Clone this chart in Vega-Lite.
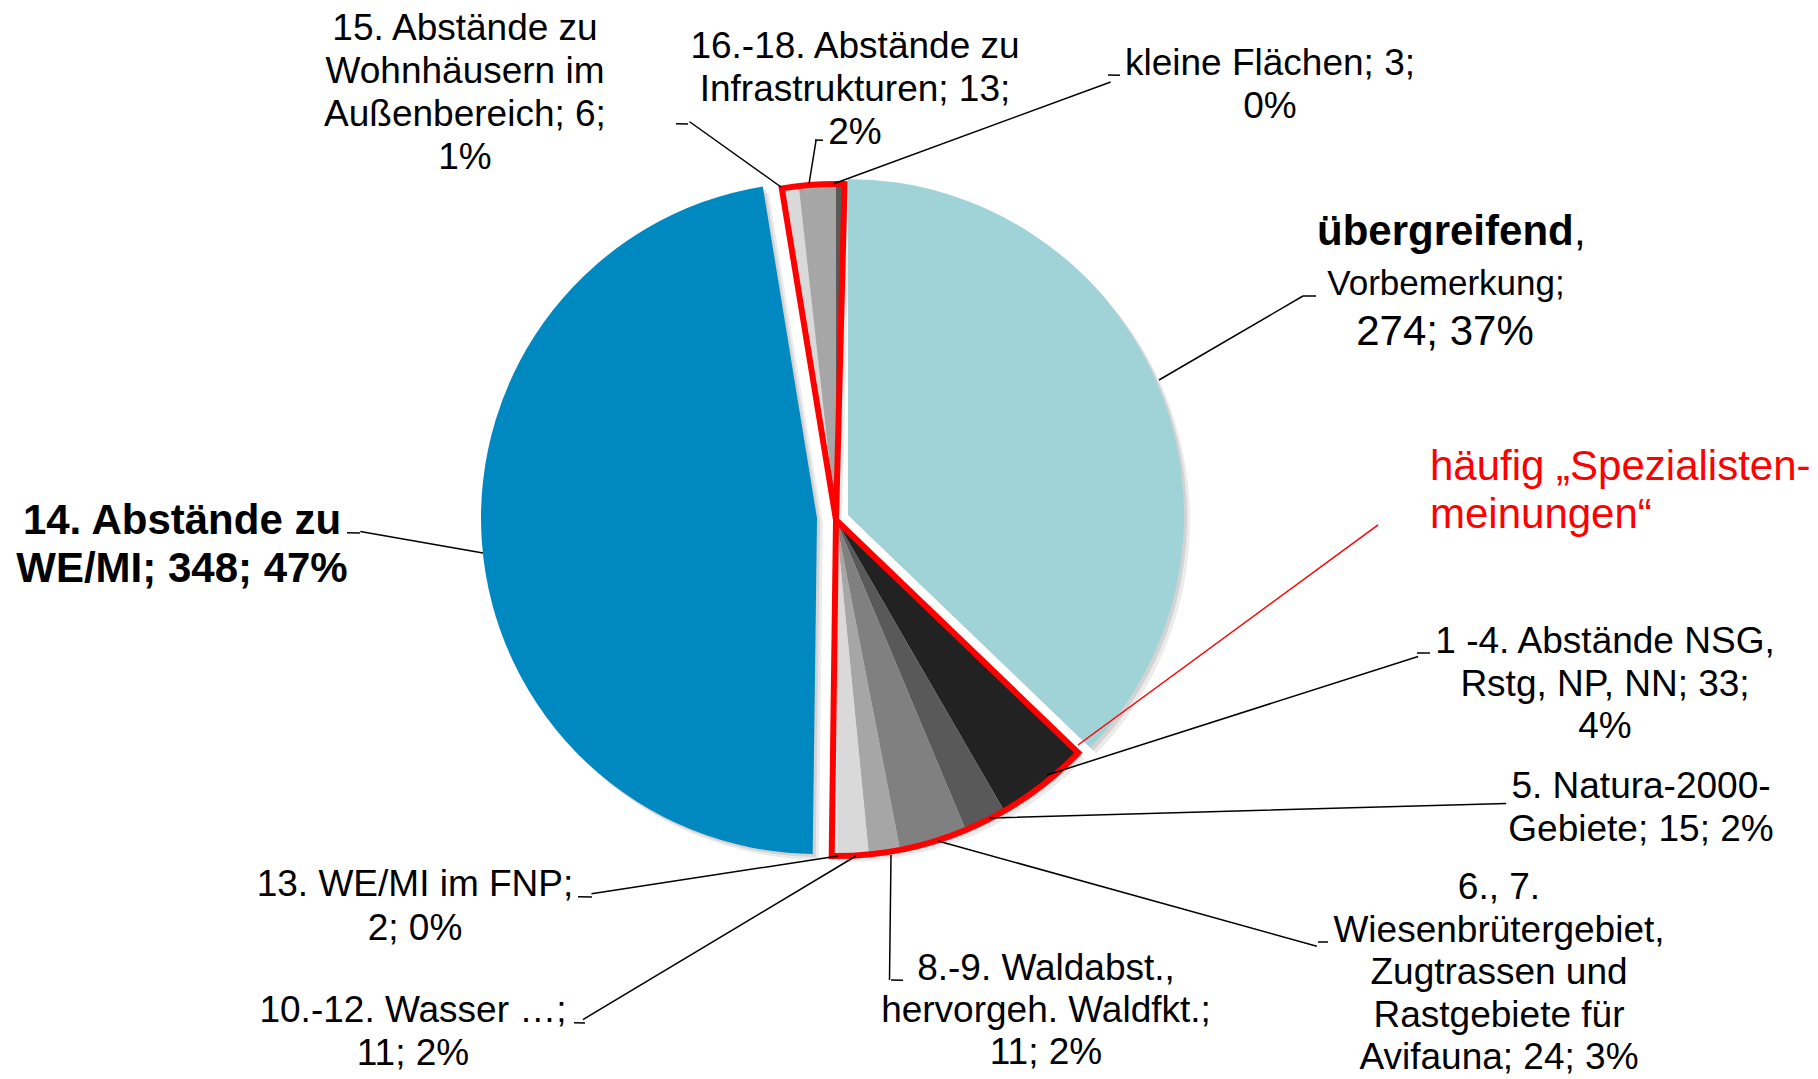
{
  "$schema": "https://vega.github.io/schema/vega-lite/v6.json",
  "width": 1672,
  "height": 1040,
  "autosize": "none",
  "padding": {"left": 0, "top": 0, "right": 146, "bottom": 39},
  "background": "#ffffff",
  "config": {"view": {"stroke": null}, "text": {"font": "Liberation Sans", "color": "#000000"}},
  "data": {
    "values": [
      {"nr": 1, "kategorie": "übergreifend, Vorbemerkung", "anzahl": 274, "block": "keiner", "label": "übergreifend, Vorbemerkung; 274; 37%"},
      {"nr": 2, "kategorie": "1 -4. Abstände NSG, Rstg, NP, NN", "anzahl": 33, "block": "unten", "label": "1 -4. Abstände NSG,\nRstg, NP, NN; 33;\n4%"},
      {"nr": 3, "kategorie": "5. Natura-2000-Gebiete", "anzahl": 15, "block": "unten", "label": "5. Natura-2000-\nGebiete; 15; 2%"},
      {"nr": 4, "kategorie": "6., 7. Wiesenbrütergebiet, Zugtrassen und Rastgebiete für Avifauna", "anzahl": 24, "block": "unten", "label": "6., 7.\nWiesenbrütergebiet,\nZugtrassen und\nRastgebiete für\nAvifauna; 24; 3%"},
      {"nr": 5, "kategorie": "8.-9. Waldabst., hervorgeh. Waldfkt.", "anzahl": 11, "block": "unten", "label": "8.-9. Waldabst.,\nhervorgeh. Waldfkt.;\n11; 2%"},
      {"nr": 6, "kategorie": "10.-12. Wasser …", "anzahl": 11, "block": "unten", "label": "10.-12. Wasser …;\n11; 2%"},
      {"nr": 7, "kategorie": "13. WE/MI im FNP", "anzahl": 2, "block": "unten", "label": "13. WE/MI im FNP;\n2; 0%"},
      {"nr": 8, "kategorie": "14. Abstände zu WE/MI", "anzahl": 348, "block": "keiner", "label": "14. Abstände zu\nWE/MI; 348; 47%"},
      {"nr": 9, "kategorie": "15. Abstände zu Wohnhäusern im Außenbereich", "anzahl": 6, "block": "oben", "label": "15. Abstände zu\nWohnhäusern im\nAußenbereich; 6;\n1%"},
      {"nr": 10, "kategorie": "16.-18. Abstände zu Infrastrukturen", "anzahl": 13, "block": "oben", "label": "16.-18. Abstände zu\nInfrastrukturen; 13;\n2%"},
      {"nr": 11, "kategorie": "kleine Flächen", "anzahl": 3, "block": "oben", "label": "kleine Flächen; 3;\n0%"}
    ]
  },
  "transform": [
    {"stack": "anzahl", "groupby": [], "sort": [{"field": "nr", "order": "ascending"}], "as": ["s0", "s1"]}
  ],
  "layer": [
    {
      "transform": [{"filter": "datum.block !== 'keiner'"}],
      "mark": {"type": "arc", "radius": 336, "color": "#000000", "opacity": 0.08, "xOffset": 6, "yOffset": 6},
      "encoding": {"theta": {"field": "s0", "type": "quantitative", "scale": {"zero": true, "nice": false}}, "theta2": {"field": "s1"}}
    },
    {
      "transform": [{"filter": "datum.block !== 'keiner'"}],
      "mark": {"type": "arc", "radius": 336, "color": "#000000", "opacity": 0.1, "xOffset": 3, "yOffset": 3},
      "encoding": {"theta": {"field": "s0", "type": "quantitative"}, "theta2": {"field": "s1"}}
    },
    {
      "transform": [{"filter": "datum.nr === 1 || datum.nr === 8"}],
      "mark": {"type": "arc", "radius": 336, "color": "#000000", "opacity": 0.08, "xOffset": {"expr": "datum.nr === 1 ? 18 : -13"}, "yOffset": {"expr": "datum.nr === 1 ? 1 : 4"}},
      "encoding": {"theta": {"field": "s0", "type": "quantitative"}, "theta2": {"field": "s1"}}
    },
    {
      "transform": [{"filter": "datum.nr === 1 || datum.nr === 8"}],
      "mark": {"type": "arc", "radius": 336, "color": "#000000", "opacity": 0.1, "xOffset": {"expr": "datum.nr === 1 ? 15 : -16"}, "yOffset": {"expr": "datum.nr === 1 ? -2 : 1"}},
      "encoding": {"theta": {"field": "s0", "type": "quantitative"}, "theta2": {"field": "s1"}}
    },
    {
      "transform": [{"filter": "datum.block !== 'keiner'"}],
      "mark": {"type": "arc", "radius": 336},
      "encoding": {
        "theta": {"field": "s0", "type": "quantitative"},
        "theta2": {"field": "s1"},
        "color": {"field": "nr", "type": "nominal", "legend": null,
          "scale": {"domain": [1, 2, 3, 4, 5, 6, 7, 8, 9, 10, 11],
                    "range": ["#A0D3D8", "#222222", "#595959", "#808080", "#A6A6A6", "#D9D9D9", "#EDEDED", "#0088C0", "#D9D9D9", "#A6A6A6", "#595959"]}}
      }
    },
    {
      "transform": [{"filter": "datum.nr === 1"}],
      "mark": {"type": "arc", "radius": 336, "xOffset": 12, "yOffset": -5},
      "encoding": {"theta": {"field": "s0", "type": "quantitative"}, "theta2": {"field": "s1"}, "color": {"field": "nr", "type": "nominal", "legend": null}}
    },
    {
      "transform": [{"filter": "datum.nr === 8"}],
      "mark": {"type": "arc", "radius": 336, "xOffset": -19, "yOffset": -2},
      "encoding": {"theta": {"field": "s0", "type": "quantitative"}, "theta2": {"field": "s1"}, "color": {"field": "nr", "type": "nominal", "legend": null}}
    },
    {
      "transform": [
        {"filter": "datum.block !== 'keiner'"},
        {"aggregate": [{"op": "min", "field": "s0", "as": "a0"}, {"op": "max", "field": "s1", "as": "a1"}], "groupby": ["block"]}
      ],
      "mark": {"type": "arc", "radius": 336, "filled": false, "color": "#FF0000", "strokeWidth": 6, "strokeJoin": "miter"},
      "encoding": {"theta": {"field": "a0", "type": "quantitative"}, "theta2": {"field": "a1"}}
    },
    {
      "transform": [{"filter": "datum.nr === 2"}],
      "mark": {"type": "arc", "radius": 372.2, "radius2": 0, "thetaOffset": -1.3982, "theta2Offset": -1.3982, "xOffset": 242, "yOffset": 225, "filled": false, "color": "#FF0000", "strokeWidth": 1.5},
      "encoding": {"theta": {"field": "s0", "type": "quantitative"}, "theta2": {"field": "s0"}}
    },
    {
      "transform": [{"filter": "datum.nr === 1"}],
      "mark": {"type": "arc", "radius": 166.7, "radius2": 0, "thetaOffset": 1.0427, "theta2Offset": 1.0427, "xOffset": 323, "yOffset": -140, "filled": false, "color": "#000000", "strokeWidth": 1.5},
      "encoding": {"theta": {"field": "s0", "type": "quantitative"}, "theta2": {"field": "s0"}}
    },
    {
      "transform": [{"filter": "datum.nr === 1"}],
      "mark": {"type": "arc", "radius": 13, "radius2": 0, "thetaOffset": 1.5708, "theta2Offset": 1.5708, "xOffset": 467, "yOffset": -224, "filled": false, "color": "#000000", "strokeWidth": 1.5},
      "encoding": {"theta": {"field": "s0", "type": "quantitative"}, "theta2": {"field": "s0"}}
    },
    {
      "transform": [{"filter": "datum.nr === 2"}],
      "mark": {"type": "arc", "radius": 389.6, "radius2": 0, "thetaOffset": -1.0742, "theta2Offset": -1.0742, "xOffset": 211, "yOffset": 255, "filled": false, "color": "#000000", "strokeWidth": 1.5},
      "encoding": {"theta": {"field": "s0", "type": "quantitative"}, "theta2": {"field": "s0"}}
    },
    {
      "transform": [{"filter": "datum.nr === 2"}],
      "mark": {"type": "arc", "radius": 13, "radius2": 0, "thetaOffset": -0.7557, "theta2Offset": -0.7557, "xOffset": 581, "yOffset": 133, "filled": false, "color": "#000000", "strokeWidth": 1.5},
      "encoding": {"theta": {"field": "s0", "type": "quantitative"}, "theta2": {"field": "s0"}}
    },
    {
      "transform": [{"filter": "datum.nr === 3"}],
      "mark": {"type": "arc", "radius": 517.4, "radius2": 0, "thetaOffset": -1.0746, "theta2Offset": -1.0746, "xOffset": 153, "yOffset": 298, "filled": false, "color": "#000000", "strokeWidth": 1.5},
      "encoding": {"theta": {"field": "s0", "type": "quantitative"}, "theta2": {"field": "s0"}}
    },
    {
      "transform": [{"filter": "datum.nr === 4"}],
      "mark": {"type": "arc", "radius": 393.2, "radius2": 0, "thetaOffset": -0.9036, "theta2Offset": -0.9036, "xOffset": 102, "yOffset": 321, "filled": false, "color": "#000000", "strokeWidth": 1.5},
      "encoding": {"theta": {"field": "s0", "type": "quantitative"}, "theta2": {"field": "s0"}}
    },
    {
      "transform": [{"filter": "datum.nr === 4"}],
      "mark": {"type": "arc", "radius": 10, "radius2": 0, "thetaOffset": -1.1632, "theta2Offset": -1.1632, "xOffset": 482, "yOffset": 422, "filled": false, "color": "#000000", "strokeWidth": 1.5},
      "encoding": {"theta": {"field": "s0", "type": "quantitative"}, "theta2": {"field": "s0"}}
    },
    {
      "transform": [{"filter": "datum.nr === 5"}],
      "mark": {"type": "arc", "radius": 125, "radius2": 0, "thetaOffset": 0.2038, "theta2Offset": 0.2038, "xOffset": 55, "yOffset": 335, "filled": false, "color": "#000000", "strokeWidth": 1.5},
      "encoding": {"theta": {"field": "s0", "type": "quantitative"}, "theta2": {"field": "s0"}}
    },
    {
      "transform": [{"filter": "datum.nr === 5"}],
      "mark": {"type": "arc", "radius": 12, "radius2": 0, "thetaOffset": -1.3670, "theta2Offset": -1.3670, "xOffset": 55, "yOffset": 460, "filled": false, "color": "#000000", "strokeWidth": 1.5},
      "encoding": {"theta": {"field": "s0", "type": "quantitative"}, "theta2": {"field": "s0"}}
    },
    {
      "transform": [{"filter": "datum.nr === 6"}],
      "mark": {"type": "arc", "radius": 318.3, "radius2": 0, "thetaOffset": 1.1291, "theta2Offset": 1.1291, "xOffset": 20, "yOffset": 336, "filled": false, "color": "#000000", "strokeWidth": 1.5},
      "encoding": {"theta": {"field": "s0", "type": "quantitative"}, "theta2": {"field": "s0"}}
    },
    {
      "transform": [{"filter": "datum.nr === 6"}],
      "mark": {"type": "arc", "radius": 11, "radius2": 0, "thetaOffset": 1.6812, "theta2Offset": 1.6812, "xOffset": -251, "yOffset": 503, "filled": false, "color": "#000000", "strokeWidth": 1.5},
      "encoding": {"theta": {"field": "s0", "type": "quantitative"}, "theta2": {"field": "s0"}}
    },
    {
      "transform": [{"filter": "datum.nr === 7"}],
      "mark": {"type": "arc", "radius": 249.4, "radius2": 0, "thetaOffset": 1.4227, "theta2Offset": 1.4227, "xOffset": 2, "yOffset": 336, "filled": false, "color": "#000000", "strokeWidth": 1.5},
      "encoding": {"theta": {"field": "s0", "type": "quantitative"}, "theta2": {"field": "s0"}}
    },
    {
      "transform": [{"filter": "datum.nr === 7"}],
      "mark": {"type": "arc", "radius": 14, "radius2": 0, "thetaOffset": 1.5878, "theta2Offset": 1.5878, "xOffset": -244, "yOffset": 377, "filled": false, "color": "#000000", "strokeWidth": 1.5},
      "encoding": {"theta": {"field": "s0", "type": "quantitative"}, "theta2": {"field": "s0"}}
    },
    {
      "transform": [{"filter": "datum.nr === 8"}],
      "mark": {"type": "arc", "radius": 124.6, "radius2": 0, "thetaOffset": 1.7320, "theta2Offset": 1.7320, "xOffset": -353, "yOffset": 33, "filled": false, "color": "#000000", "strokeWidth": 1.5},
      "encoding": {"theta": {"field": "s0", "type": "quantitative"}, "theta2": {"field": "s0"}}
    },
    {
      "transform": [{"filter": "datum.nr === 8"}],
      "mark": {"type": "arc", "radius": 13, "radius2": 0, "thetaOffset": 1.5708, "theta2Offset": 1.5708, "xOffset": -476, "yOffset": 13, "filled": false, "color": "#000000", "strokeWidth": 1.5},
      "encoding": {"theta": {"field": "s0", "type": "quantitative"}, "theta2": {"field": "s0"}}
    },
    {
      "transform": [{"filter": "datum.nr === 9"}],
      "mark": {"type": "arc", "radius": 112.3, "radius2": 0, "thetaOffset": -0.7887, "theta2Offset": -0.7887, "xOffset": -55, "yOffset": -333, "filled": false, "color": "#000000", "strokeWidth": 1.5},
      "encoding": {"theta": {"field": "s0", "type": "quantitative"}, "theta2": {"field": "s0"}}
    },
    {
      "transform": [{"filter": "datum.nr === 9"}],
      "mark": {"type": "arc", "radius": 12, "radius2": 0, "thetaOffset": -1.3840, "theta2Offset": -1.3840, "xOffset": -148, "yOffset": -396, "filled": false, "color": "#000000", "strokeWidth": 1.5},
      "encoding": {"theta": {"field": "s0", "type": "quantitative"}, "theta2": {"field": "s0"}}
    },
    {
      "transform": [{"filter": "datum.nr === 10"}],
      "mark": {"type": "arc", "radius": 44.4, "radius2": 0, "thetaOffset": -6.0117, "theta2Offset": -6.0117, "xOffset": -27, "yOffset": -336, "filled": false, "color": "#000000", "strokeWidth": 1.5},
      "encoding": {"theta": {"field": "s0", "type": "quantitative"}, "theta2": {"field": "s0"}}
    },
    {
      "transform": [{"filter": "datum.nr === 10"}],
      "mark": {"type": "arc", "radius": 8, "radius2": 0, "thetaOffset": -4.5765, "theta2Offset": -4.5765, "xOffset": -21, "yOffset": -380, "filled": false, "color": "#000000", "strokeWidth": 1.5},
      "encoding": {"theta": {"field": "s0", "type": "quantitative"}, "theta2": {"field": "s0"}}
    },
    {
      "transform": [{"filter": "datum.nr === 11"}],
      "mark": {"type": "arc", "radius": 295.8, "radius2": 0, "thetaOffset": -5.0643, "theta2Offset": -5.0643, "xOffset": -3, "yOffset": -336, "filled": false, "color": "#000000", "strokeWidth": 1.5},
      "encoding": {"theta": {"field": "s0", "type": "quantitative"}, "theta2": {"field": "s0"}}
    },
    {
      "transform": [{"filter": "datum.nr === 11"}],
      "mark": {"type": "arc", "radius": 12, "radius2": 0, "thetaOffset": -4.6869, "theta2Offset": -4.6869, "xOffset": 272, "yOffset": -445, "filled": false, "color": "#000000", "strokeWidth": 1.5},
      "encoding": {"theta": {"field": "s0", "type": "quantitative"}, "theta2": {"field": "s0"}}
    },
    {
      "transform": [{"filter": "datum.nr === 9"}],
      "mark": {"type": "text", "fontSize": 37, "lineHeight": 43, "lineBreak": "\n", "align": "center", "baseline": "alphabetic", "dx": -371, "dy": -480},
      "encoding": {"text": {"field": "label"}}
    },
    {
      "transform": [{"filter": "datum.nr === 10"}],
      "mark": {"type": "text", "fontSize": 37, "lineHeight": 43, "lineBreak": "\n", "align": "center", "baseline": "alphabetic", "dx": 19, "dy": -462},
      "encoding": {"text": {"field": "label"}}
    },
    {
      "transform": [{"filter": "datum.nr === 11"}],
      "mark": {"type": "text", "fontSize": 37, "lineHeight": 43, "lineBreak": "\n", "align": "center", "baseline": "alphabetic", "dx": 434, "dy": -445},
      "encoding": {"text": {"field": "label"}}
    },
    {
      "transform": [{"filter": "datum.nr === 1"}],
      "mark": {"type": "text", "fontSize": 42, "fontWeight": "bold", "align": "left", "baseline": "alphabetic", "dx": 481, "dy": -275},
      "encoding": {"text": {"value": "übergreifend"}}
    },
    {
      "transform": [{"filter": "datum.nr === 1"}],
      "mark": {"type": "text", "fontSize": 42, "align": "left", "baseline": "alphabetic", "dx": 738, "dy": -275},
      "encoding": {"text": {"value": ","}}
    },
    {
      "transform": [{"filter": "datum.nr === 1"}],
      "mark": {"type": "text", "fontSize": 35, "align": "center", "baseline": "alphabetic", "dx": 610, "dy": -225},
      "encoding": {"text": {"value": "Vorbemerkung;"}}
    },
    {
      "transform": [{"filter": "datum.nr === 1"}],
      "mark": {"type": "text", "fontSize": 42, "align": "center", "baseline": "alphabetic", "dx": 609, "dy": -175},
      "encoding": {"text": {"value": "274; 37%"}}
    },
    {
      "transform": [{"filter": "datum.nr === 2"}],
      "mark": {"type": "text", "fontSize": 42, "lineHeight": 48, "lineBreak": "\n", "align": "left", "baseline": "alphabetic", "color": "#FF0000", "dx": 594, "dy": -40},
      "encoding": {"text": {"value": "häufig „Spezialisten-\nmeinungen“"}}
    },
    {
      "transform": [{"filter": "datum.nr === 8"}],
      "mark": {"type": "text", "fontSize": 42, "fontWeight": "bold", "lineHeight": 48, "lineBreak": "\n", "align": "center", "baseline": "alphabetic", "dx": -654, "dy": 14},
      "encoding": {"text": {"field": "label"}}
    },
    {
      "transform": [{"filter": "datum.nr === 2"}],
      "mark": {"type": "text", "fontSize": 37, "lineHeight": 42.5, "lineBreak": "\n", "align": "center", "baseline": "alphabetic", "dx": 769, "dy": 133},
      "encoding": {"text": {"field": "label"}}
    },
    {
      "transform": [{"filter": "datum.nr === 3"}],
      "mark": {"type": "text", "fontSize": 37, "lineHeight": 42.5, "lineBreak": "\n", "align": "center", "baseline": "alphabetic", "dx": 805, "dy": 278},
      "encoding": {"text": {"field": "label"}}
    },
    {
      "transform": [{"filter": "datum.nr === 4"}],
      "mark": {"type": "text", "fontSize": 37, "lineHeight": 42.5, "lineBreak": "\n", "align": "center", "baseline": "alphabetic", "dx": 663, "dy": 379},
      "encoding": {"text": {"field": "label"}}
    },
    {
      "transform": [{"filter": "datum.nr === 5"}],
      "mark": {"type": "text", "fontSize": 37, "lineHeight": 42, "lineBreak": "\n", "align": "center", "baseline": "alphabetic", "dx": 210, "dy": 460},
      "encoding": {"text": {"field": "label"}}
    },
    {
      "transform": [{"filter": "datum.nr === 6"}],
      "mark": {"type": "text", "fontSize": 37, "lineHeight": 43, "lineBreak": "\n", "align": "center", "baseline": "alphabetic", "dx": -423, "dy": 502},
      "encoding": {"text": {"field": "label"}}
    },
    {
      "transform": [{"filter": "datum.nr === 7"}],
      "mark": {"type": "text", "fontSize": 37, "lineHeight": 44, "lineBreak": "\n", "align": "center", "baseline": "alphabetic", "dx": -421, "dy": 376},
      "encoding": {"text": {"field": "label"}}
    }
  ]
}
